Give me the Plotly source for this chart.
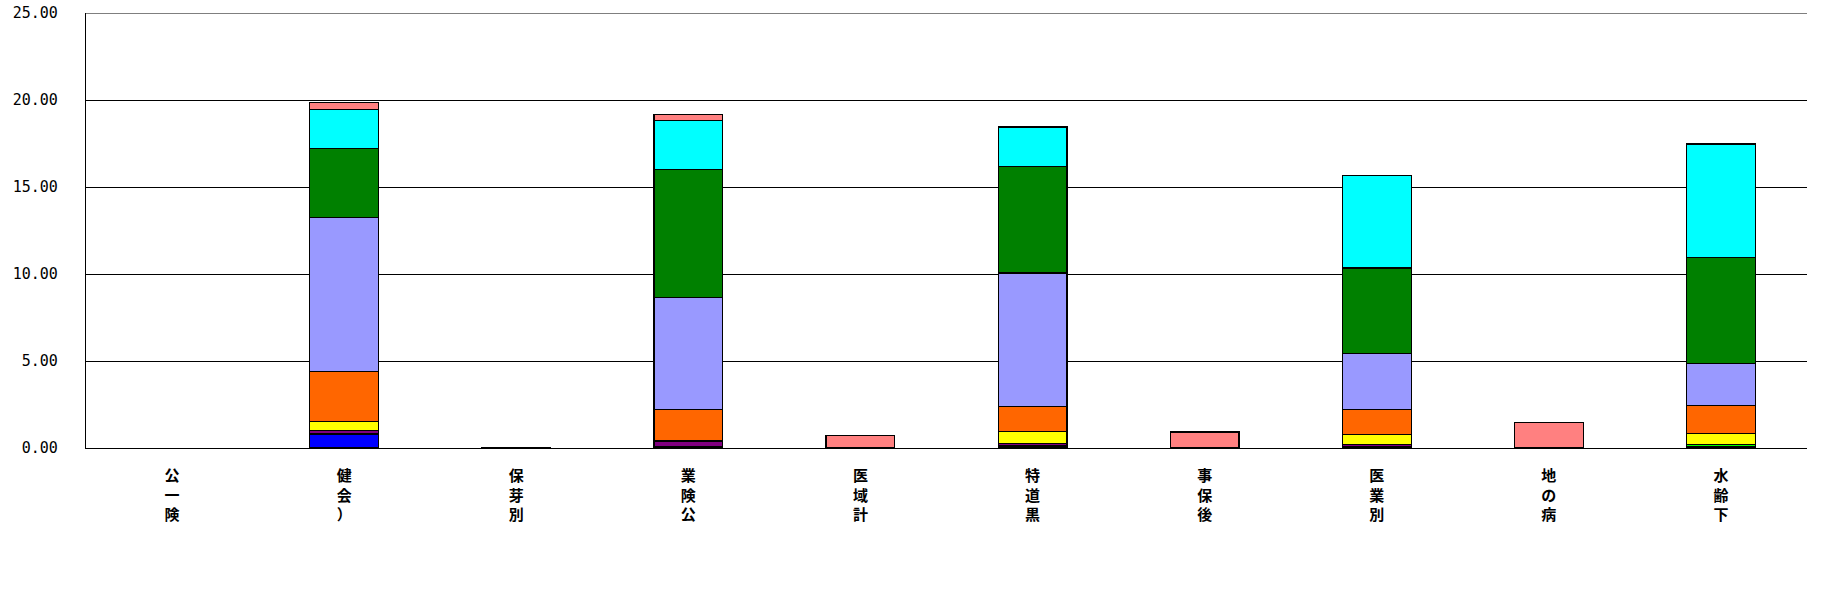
import plotly.graph_objects as go

# categories (x axis), labels drawn vertically one char per line
categories = ['公一険', '健会）', '保芽別', '業険公', '医域計', '特道黒', '事保後', '医業別', '地の病', '水齢下']

# stacked series, bottom to top (None = no bar)
blue = [None, 0.81, None, None, None, None, None, None, None, None]
navy = [None, None, None, 0.06, None, 0.12, None, 0.08, None, 0.08]
purple = [None, 0.19, None, 0.34, None, 0.12, None, 0.13, None, None]
lime = [None, None, None, None, None, None, None, None, None, 0.12]
yellow = [None, 0.53, None, None, None, 0.69, None, 0.58, None, 0.63]
orange = [None, 2.88, None, 1.79, None, 1.44, None, 1.44, None, 1.61]
lavender = [None, 8.83, None, 6.48, None, 7.69, None, 3.20, None, 2.42]
green = [None, 3.97, None, 7.33, None, 6.12, None, 4.91, None, 6.08]
cyan = [None, 2.25, None, 2.80, None, 2.27, None, 5.30, None, 6.53]
pink = [None, 0.38, 0.05, 0.35, 0.70, None, 0.92, None, 1.45, None]

y_ticks = [0, 5, 10, 15, 20, 25]
y_max = 25

series = [
    ('blue', blue, '#0000FF'),
    ('navy', navy, '#000080'),
    ('purple', purple, '#800080'),
    ('lime', lime, '#00FF00'),
    ('yellow', yellow, '#FFFF00'),
    ('orange', orange, '#FF6600'),
    ('lavender', lavender, '#9999FF'),
    ('green', green, '#008000'),
    ('cyan', cyan, '#00FFFF'),
    ('pink', pink, '#FF8080'),
]

fig = go.Figure()
for name, vals, col in series:
    fig.add_trace(go.Bar(x=categories, y=vals, name=name,
                         marker=dict(color=col, line=dict(color='black', width=1.2))))

fig.update_layout(
    barmode='stack',
    bargap=0.6,
    showlegend=False,
    width=1848, height=605,
    margin=dict(l=86, r=41, t=13, b=157, autoexpand=False),
    plot_bgcolor='white',
    paper_bgcolor='white',
)

# top gridline (plotly skips the grid at the very edge of the range)
fig.add_shape(type='line', xref='paper', yref='y', x0=0, x1=1, y0=y_max, y1=y_max,
              line=dict(color='black', width=1.2), layer='below')

fig.update_xaxes(
    tickmode='array',
    tickvals=categories,
    ticktext=['<br>'.join(list(c)) for c in categories],
    tickfont=dict(family='Noto Sans CJK JP', size=15, color='black', weight='bold'),
    ticklabelstandoff=14,
    showline=True, linecolor='black', linewidth=1.2,
    showgrid=False,
    automargin=False,
)

fig.update_yaxes(
    range=[0, y_max],
    tickvals=y_ticks,
    tickformat='.2f',
    tickfont=dict(family='DejaVu Sans Mono', size=15, color='black'),
    ticklabelstandoff=24,
    ticklabeloverflow='allow',
    showline=True, linecolor='black', linewidth=1.2,
    showgrid=True, gridcolor='black', gridwidth=1.2,
    zeroline=False,
    automargin=False,
)

# drop the browser's default body margin so the figure sits at the page corner
fig.write_html("out.html", config={'displayModeBar': False},
               post_script="document.body.style.margin='0';")
